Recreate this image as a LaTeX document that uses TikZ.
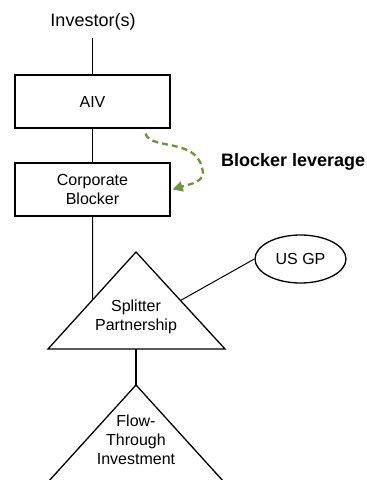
\documentclass[tikz,border=0pt]{standalone}
\usepackage{fontspec}
\setmainfont{Liberation Sans}
\usetikzlibrary{arrows.meta,shapes.geometric,calc}
\definecolor{levgreen}{RGB}{108,150,56}
\begin{document}
\begin{tikzpicture}[x=1pt,y=-1pt,
  txt/.style={font=\fontsize{16}{19}\selectfont,align=center,inner sep=0pt},
  box/.style={txt,draw,line width=1.3pt,minimum width=155pt,minimum height=53pt},
  link/.style={line width=1pt},
  shapeline/.style={line width=1.3pt,line join=miter},
  lev/.style={levgreen,line width=2.3pt,dash pattern=on 6pt off 4pt,-{Triangle[length=10pt,width=10pt]}}]
\clip (0,0) rectangle (367,480);
% top label and boxes
\node[font=\fontsize{18}{21}\selectfont,inner sep=0pt] (inv) at (93,22) {Investor(s)};
\coordinate (invb) at (92.5,38);
\node[box] (aiv) at (92.5,101.5) {AIV};
\node[box] (cb) at (92.5,189.5) {Corporate\\Blocker};
% splitter triangle
\coordinate (sA) at (136,252);
\coordinate (sL) at (48,349);
\coordinate (sR) at (225,349);
\draw[shapeline] (sA) -- (sR) -- (sL) -- cycle;
\node[txt] (split) at (136,317) {Splitter\\Partnership};
\coordinate (sLeft) at ($(sA)!0.494!(sL)$);
\coordinate (sRight) at ($(sA)!0.5!(sR)$);
\coordinate (sBase) at (136,349);
% flow-through triangle
\coordinate (fA) at (136,385);
\coordinate (fL) at (48,482);
\coordinate (fR) at (224,482);
\draw[shapeline] (fL) -- (fA) -- (fR);
\node[txt] (flow) at (136,440) {Flow-\\Through\\Investment};
% US GP
\node[txt,draw,ellipse,line width=1.3pt,minimum width=91pt,minimum height=48pt] (gp) at (300.5,259) {US GP};
% connectors
\draw[link] (invb) -- (aiv.north);
\draw[link] (aiv.south) -- (cb.north);
\draw[link] (cb.south) -- (sLeft);
\draw[link] (gp.west) -- (sRight);
\draw[line width=2pt] (sBase) -- (fA);
% blocker leverage
\coordinate (levs) at ($(aiv.south east)+(-25,5)$);
\coordinate (levm) at (202,168);
\draw[lev] (levs) .. controls (150,150) and (196,138) .. (levm) .. controls (207,182) and (190,184) .. ($(cb.east)+(2,0)$);
\node[font=\bfseries\fontsize{18}{21}\selectfont,anchor=base west,inner sep=0pt] (levlabel) at (221,166) {Blocker leverage};
\end{tikzpicture}
\end{document}
